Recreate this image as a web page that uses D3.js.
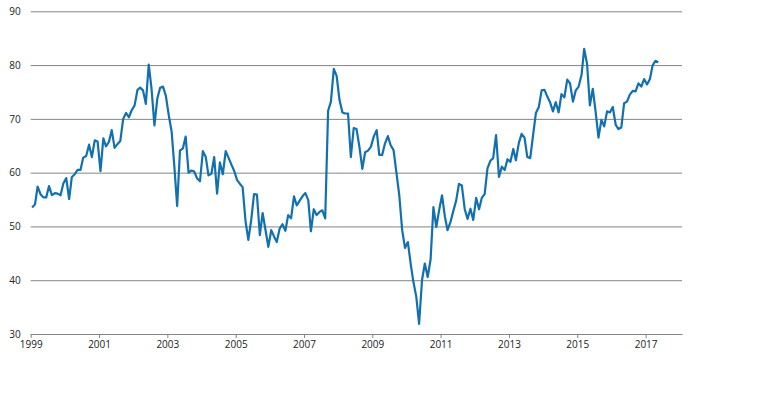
<!DOCTYPE html>
<html>
<head>
<meta charset="utf-8">
<script src="https://cdn.jsdelivr.net/npm/d3@7"></script>
<style>
  body { margin: 0; background: #fff; }
  .svgWrap text { font-family: "Open Sans", sans-serif; font-size: 10px; fill: #222; }
</style>
</head>
<body>
<div class="svgWrap"></div>
<script>
// monthly values, Jan 1999 onwards (one row per year)
var startYear = 1999;
var values = [
  53.5,54.1,57.4,56.0,55.4,55.4,57.5,55.8,56.2,56.1,55.8,58.0,
  59.0,55.1,59.2,59.7,60.5,60.5,62.8,63.1,65.2,62.9,66.0,65.8,
  60.3,66.4,64.9,65.7,67.9,64.6,65.3,65.9,70.0,71.1,70.3,71.6,
  72.5,75.4,75.8,75.3,72.8,80.1,75.6,68.8,73.8,75.8,76.0,74.3,
  70.7,67.6,61.4,53.8,64.1,64.5,66.7,60.0,60.4,60.2,58.9,58.4,
  64.0,62.9,59.5,59.8,62.9,56.1,61.9,59.7,64.0,62.8,61.5,60.3,
  58.6,57.9,57.3,51.0,47.5,51.2,56.0,55.9,48.4,52.5,49.3,46.2,
  49.3,48.1,47.1,49.6,50.4,49.2,52.1,51.5,55.6,53.9,54.8,55.6,
  56.2,54.9,49.1,53.2,52.1,52.7,53.0,51.5,71.5,73.2,79.3,78.0,
  73.5,71.2,71.0,71.0,62.9,68.3,68.1,64.8,60.7,63.8,64.1,64.8,
  66.7,67.9,63.3,63.3,65.4,66.8,65.1,64.2,59.9,55.8,49.3,46.0,
  47.1,42.9,39.7,36.9,31.9,40.0,43.1,40.6,43.9,53.6,49.9,53.0,
  55.8,51.8,49.3,50.8,52.8,54.8,57.9,57.6,53.2,51.4,53.3,51.2,
  55.3,53.2,55.3,56.0,60.8,62.2,62.7,67.0,59.2,61.1,60.5,62.5,
  62.0,64.4,62.3,65.5,67.2,66.5,62.9,62.7,67.0,71.1,72.2,75.3,
  75.4,74.1,73.1,71.4,73.1,71.2,74.6,74.0,77.3,76.6,73.2,75.3,
  76.0,78.2,83.0,80.2,72.5,75.6,71.4,66.5,69.8,68.6,71.4,71.2,
  72.2,68.9,68.1,68.4,72.9,73.2,74.5,75.2,75.1,76.6,76.0,77.4,
  76.4,77.4,79.9,80.8,80.5
];
var xTickYears = [1999, 2001, 2003, 2005, 2007, 2009, 2011, 2013, 2015, 2017];
var yTicks = [30, 40, 50, 60, 70, 80, 90];

var margin = {top: 11.3, right: 88, bottom: 64, left: 30.7};
var width = 770 - margin.left - margin.right;
var height = 398 - margin.top - margin.bottom;

var x = d3.scaleTime()
  .domain([new Date(startYear, 0, 1), new Date(2018, 0, 25)])
  .range([0, width]);

var y = d3.scaleLinear()
  .domain([30, 90])
  .range([height, 0]);

var svg = d3.select(".svgWrap")
  .append("svg")
  .attr("width", 770)
  .attr("height", 398)
  .append("g")
  .attr("transform", "translate(" + margin.left + "," + margin.top + ")");

//Gridlines + y labels
var yAxis = svg.append("g")
  .call(d3.axisLeft(y).tickValues(yTicks).tickSize(-width).tickPadding(10).tickFormat(d3.format("d")));
yAxis.select(".domain").remove();
yAxis.selectAll("line").attr("stroke", "#858585").attr("stroke-width", 1);
yAxis.selectAll("text").attr("fill", "#222");

//X Axis
var xAxis = svg.append("g")
  .attr("transform", "translate(0," + height + ")")
  .call(d3.axisBottom(x)
    .tickValues(xTickYears.map(function(yr){ return new Date(yr, 0, 1); }))
    .tickFormat(d3.timeFormat("%Y"))
    .tickSize(4)
    .tickSizeOuter(0)
    .tickPadding(3));
xAxis.select(".domain").attr("stroke", "#858585");
xAxis.selectAll("line").attr("stroke", "#858585");
xAxis.selectAll("text").attr("fill", "#222");

//Line
var line = d3.line()
  .x(function(d, i){ return x(new Date(startYear, i, 16)); })
  .y(function(d){ return y(d); });

svg.append("path")
  .datum(values)
  .attr("fill", "none")
  .attr("stroke", "#1170b0")
  .attr("stroke-width", 2.2)
  .attr("stroke-linejoin", "round")
  .attr("d", line);
</script>
</body>
</html>
